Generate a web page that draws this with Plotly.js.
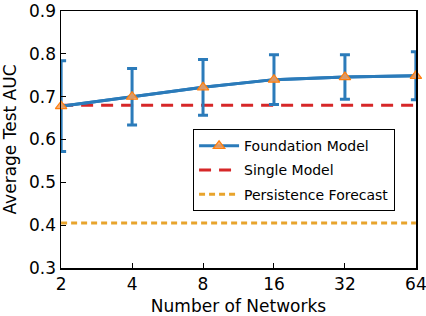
<!DOCTYPE html>
<html>
<head>
<meta charset="utf-8">
<script src="https://cdn.plot.ly/plotly-3.0.1.min.js"></script>
<style>html,body{margin:0;padding:0;background:#fff;}#chart{width:426px;height:316px;}</style>
</head>
<body>
<div id="chart"></div>
<script>
const networks = [2, 4, 8, 16, 32, 64];
const foundationAUC = [0.678, 0.700, 0.722, 0.740, 0.746, 0.749];
const foundationErr = [0.106, 0.066, 0.065, 0.058, 0.052, 0.056];
const singleAUC = [0.680, 0.680, 0.680, 0.680, 0.680, 0.680];
const persistenceAUC = [0.405, 0.405, 0.405, 0.405, 0.405, 0.405];
const tickLabels = ['2', '4', '8', '16', '32', '64'];
const yTicks = [0.3, 0.4, 0.5, 0.6, 0.7, 0.8, 0.9];

const font = 'DejaVu Sans, sans-serif';
const traces = [
  {
    x: networks, y: singleAUC, mode: 'lines', name: 'Single Model',
    line: {color: '#d62728', width: 3, dash: '12px,8px'},
    legendgroup: 'b', legendrank: 2
  },
  {
    x: networks, y: persistenceAUC, mode: 'lines', name: 'Persistence Forecast',
    line: {color: '#e8a42c', width: 3, dash: '6px,4px'},
    legendgroup: 'c', legendrank: 3
  },
  {
    x: networks, y: foundationAUC, mode: 'lines', name: 'Foundation Model',
    line: {color: '#2b7bba', width: 3},
    error_y: {type: 'data', array: foundationErr, visible: true, color: '#2b7bba', thickness: 3, width: 5},
    showlegend: false, legendgroup: 'a'
  },
  {
    x: networks, y: foundationAUC, mode: 'lines+markers', name: 'Foundation Model',
    line: {color: '#2b7bba', width: 3},
    marker: {symbol: 'triangle-up', size: 10, color: 'rgba(246,160,95,0.85)', line: {color: '#ff7f0e', width: 1.2}},
    cliponaxis: false, legendgroup: 'a', legendrank: 1
  }
];

const layout = {
  width: 426, height: 316,
  margin: {l: 61, r: 10, t: 11, b: 48},
  paper_bgcolor: '#fff', plot_bgcolor: '#fff',
  font: {family: font, color: '#000', size: 17},
  showlegend: true,
  legend: {
    x: 0.372, y: 0.54, xanchor: 'left', yanchor: 'top',
    bgcolor: '#fff', bordercolor: '#000', borderwidth: 1,
    font: {family: font, size: 14, color: '#000'},
    traceorder: 'grouped', tracegroupgap: 3, itemwidth: 40
  },
  xaxis: {
    type: 'log', range: [Math.log10(2) - 0.0005, Math.log10(64) + 0.0005],
    tickmode: 'array', tickvals: networks, ticktext: tickLabels,
    ticks: 'inside', ticklen: 5, tickwidth: 1, tickcolor: '#000',
    ticklabeloverflow: 'allow', automargin: false,
    showline: true, linecolor: '#000', linewidth: 1.5, mirror: true,
    showgrid: false, zeroline: false,
    tickfont: {family: font, size: 17},
    title: {text: 'Number of Networks', font: {family: font, size: 17}, standoff: 8}
  },
  yaxis: {
    range: [0.2995, 0.9005], tickmode: 'array', tickvals: yTicks, tickformat: '.1f',
    ticks: 'inside', ticklen: 5, tickwidth: 1, tickcolor: '#000',
    ticklabeloverflow: 'allow', automargin: false,
    showline: true, linecolor: '#000', linewidth: 1.5, mirror: true,
    showgrid: false, zeroline: false,
    tickfont: {family: font, size: 17},
    title: {text: 'Average Test AUC', font: {family: font, size: 17}, standoff: 8}
  }
};

Plotly.newPlot('chart', traces, layout, {displayModeBar: false, staticPlot: true});
</script>
</body>
</html>
